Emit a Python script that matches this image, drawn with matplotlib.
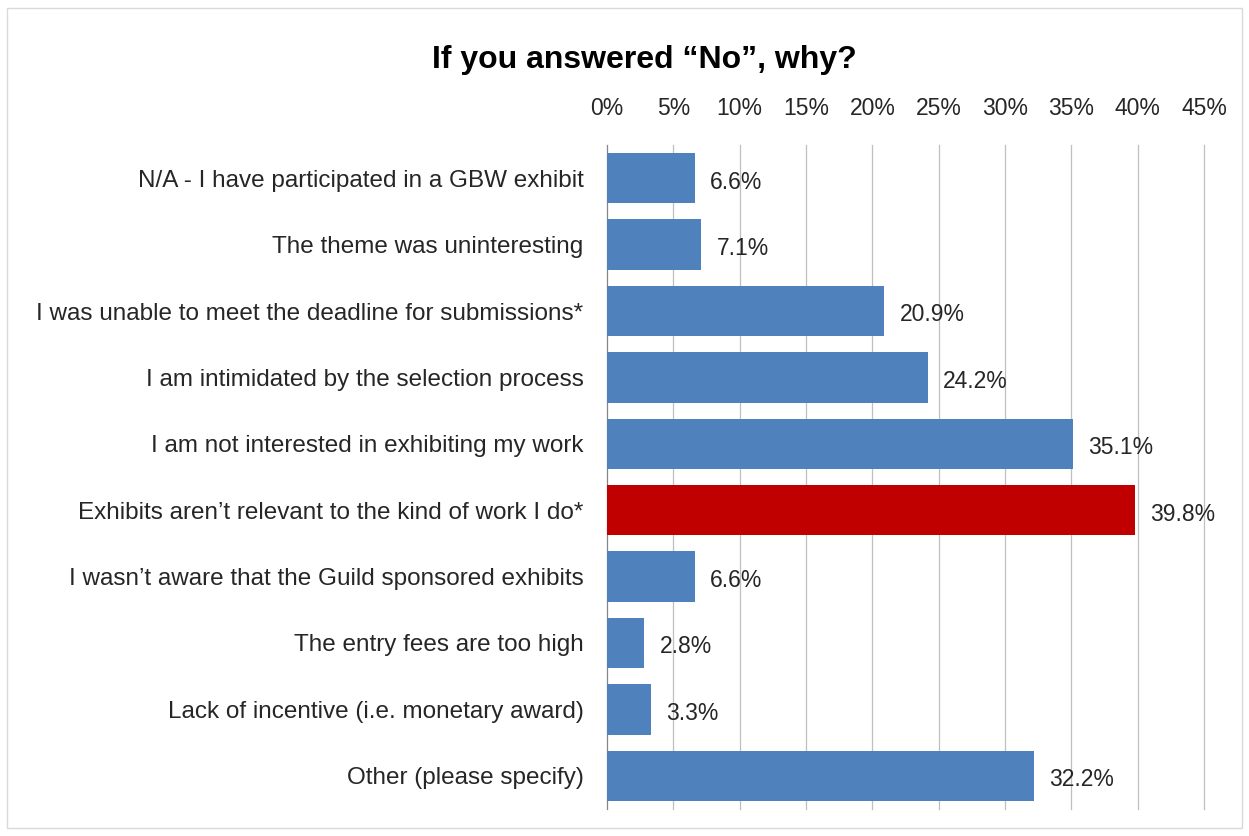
import matplotlib.pyplot as plt
from matplotlib.patches import Rectangle

categories = [
    "N/A - I have participated in a GBW exhibit",
    "The theme was uninteresting",
    "I was unable to meet the deadline for submissions*",
    "I am intimidated by the selection process",
    "I am not interested in exhibiting my work",
    "Exhibits aren\u2019t relevant to the kind of work I do*",
    "I wasn\u2019t aware that the Guild sponsored exhibits",
    "The entry fees are too high",
    "Lack of incentive (i.e. monetary award)",
    "Other (please specify)",
]
values = [6.6, 7.1, 20.9, 24.2, 35.1, 39.8, 6.6, 2.8, 3.3, 32.2]
highlight = 5

plt.rcParams['font.family'] = ['Liberation Sans', 'DejaVu Sans']

fig = plt.figure(figsize=(12.49, 8.36), dpi=100)
fig.patches.append(Rectangle((0.006, 0.009), 0.988, 0.982, transform=fig.transFigure,
                             fill=False, edgecolor='#d9d9d9', linewidth=1))
ax = fig.add_axes([607 / 1249, 1 - 809 / 836, (1204 - 607) / 1249, (809 - 145) / 836])

colors = ['#c00000' if i == highlight else '#4f81bd' for i in range(len(values))]
ypos = list(range(len(values)))
ax.barh(ypos, values, height=0.76, color=colors, zorder=3)
for y, v in zip(ypos, values):
    ax.text(v + 1.15, y + 0.06, f"{v:.1f}%", va='center', ha='left', fontsize=16.5,
            color='#262626', zorder=4)

ax.set_xlim(0, 45)
ax.set_ylim(len(values) - 0.5, -0.5)
ax.set_xticks(range(0, 46, 5))
ax.set_xticklabels([f"{t}%" for t in range(0, 46, 5)])
ax.xaxis.tick_top()
ax.set_yticks(ypos)
ax.set_yticklabels(categories)
ax.tick_params(axis='x', length=0, labelsize=16.5, pad=18, colors='#262626')
ax.tick_params(axis='y', length=0, labelsize=17.5, pad=17, colors='#262626')
ax.grid(axis='x', color='#bfbfbf', linewidth=0.9, zorder=0)
for line in ax.get_xgridlines():
    line.set_clip_on(False)
for s in ['top', 'right', 'bottom']:
    ax.spines[s].set_visible(False)
ax.spines['left'].set_color('#868686')

fig.text(644 / 1249, 1 - 60 / 836, "If you answered \u201cNo\u201d, why?",
         ha='center', va='center', fontsize=23, fontweight='bold')

fig.savefig('out.png', dpi=100)
